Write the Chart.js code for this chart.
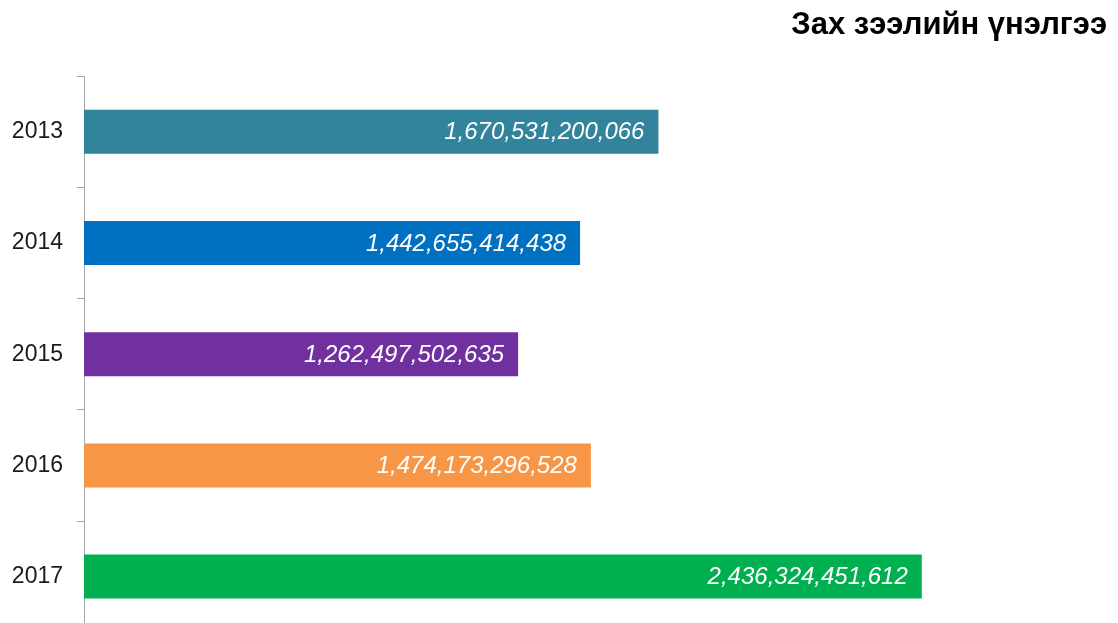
<!DOCTYPE html>
<html>
<head>
<meta charset="utf-8">
<script src="https://cdn.jsdelivr.net/npm/chart.js@4.4.1/dist/chart.umd.min.js"></script>
<style>
  html, body { margin: 0; padding: 0; background: #fff; overflow: hidden; }
  #wrap { width: 1118px; height: 660px; }
</style>
</head>
<body>
<div id="wrap"><canvas id="chart" width="1118" height="660"></canvas></div>
<script>
const years = ['2013', '2014', '2015', '2016', '2017'];
const marketCap = [1670531200066, 1442655414438, 1262497502635, 1474173296528, 2436324451612];
const barColors = ['#31849B', '#0070C0', '#7030A0', '#F79646', '#00B050'];
const titleText = 'Зах зээлийн үнэлгээ';

// value labels drawn inside the bar end
const valueLabels = {
  id: 'valueLabels',
  afterDatasetsDraw(chart) {
    const ctx = chart.ctx;
    const meta = chart.getDatasetMeta(0);
    ctx.save();
    ctx.font = 'italic 24px "Liberation Sans", Arial, sans-serif';
    ctx.fillStyle = '#ffffff';
    ctx.textAlign = 'right';
    ctx.textBaseline = 'middle';
    meta.data.forEach((bar, i) => {
      const txt = marketCap[i].toLocaleString('en-US');
      ctx.fillText(txt, bar.x - 14, bar.y + 1);
    });
    ctx.restore();
  }
};

new Chart(document.getElementById('chart').getContext('2d'), {
  type: 'bar',
  data: {
    labels: years,
    datasets: [{
      data: marketCap,
      backgroundColor: barColors,
      borderWidth: 0,
      categoryPercentage: 1,
      barPercentage: 0.396,
    }],
  },
  plugins: [valueLabels],
  options: {
    indexAxis: 'y',
    responsive: false,
    animation: false,
    layout: { padding: { left: 12, right: 11, top: 0, bottom: 9 } },
    plugins: {
      legend: { display: false },
      tooltip: { enabled: false },
      title: {
        display: true,
        text: titleText,
        align: 'end',
        color: '#000000',
        font: { family: '"Liberation Sans", Arial, sans-serif', size: 31, weight: 'bold' },
        padding: { top: 7, bottom: 32 },
      },
    },
    scales: {
      x: {
        display: false,
        min: 0,
        max: 2.975e12,
      },
      y: {
        offset: true,
        afterFit(scale) { scale.width = 72; },
        grid: {
          offset: true,
          drawOnChartArea: false,
          drawTicks: true,
          tickLength: 7,
          color: '#a6a6a6',
        },
        border: { color: '#a6a6a6', width: 1 },
        ticks: {
          color: '#1a1a1a',
          padding: 14,
          font: { family: '"Liberation Sans", Arial, sans-serif', size: 23 },
        },
      },
    },
  },
});
</script>
</body>
</html>
